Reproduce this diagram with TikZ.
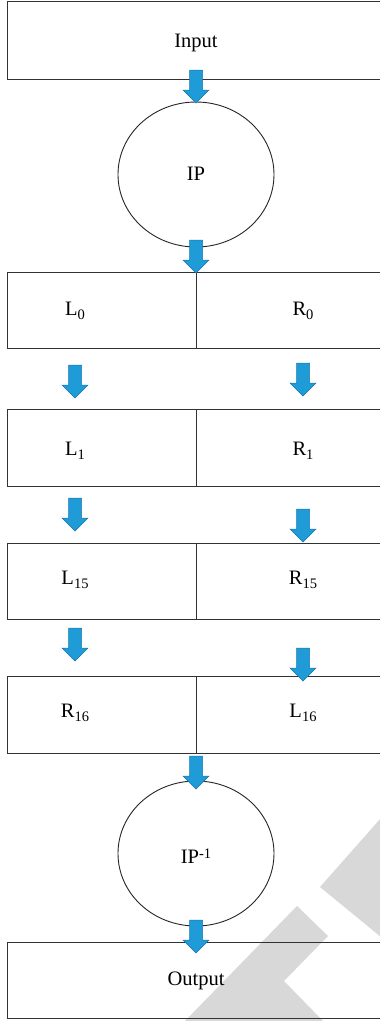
\documentclass[tikz,border=0pt]{standalone}
\usepackage{fontspec}
\setmainfont{Liberation Serif}
\usetikzlibrary{shapes.geometric}
\definecolor{arrowfill}{RGB}{31,156,215}
\definecolor{arrowedge}{RGB}{24,118,176}
\definecolor{boxline}{RGB}{50,50,50}
\definecolor{wmark}{RGB}{216,216,216}
\newcommand\mysub[1]{\raisebox{-4pt}{\fontsize{14.5}{14.5}\selectfont #1}}
\newcommand\mysup[1]{\raisebox{4.5pt}{\fontsize{14.5}{14.5}\selectfont #1}}
\tikzset{
  box/.style={draw=boxline, line width=0.9pt, rectangle, inner sep=0pt},
  circ/.style={draw=black!85, line width=0.9pt, ellipse, inner sep=0pt, minimum width=156pt, minimum height=145pt},
  lbl/.style={inner sep=0pt, anchor=base, font=\fontsize{20.5}{22}\selectfont},
  arrowstyle/.style={fill=arrowfill, draw=arrowedge, line width=0.5pt, line join=miter},
  blockarrow/.pic={\draw[arrowstyle] (-6.5,0) -- (6.5,0) -- (6.5,20) -- (13,20) -- (0,33) -- (-13,20) -- (-6.5,20) -- cycle;}
}
\begin{document}
\begin{tikzpicture}[x=1pt,y=-1pt]
\useasboundingbox (0,0) rectangle (380,1021);
\fill[white] (0,0) rectangle (380,1021);
% watermark
\fill[wmark] (320,887) -- (381,818) -- (381,937) -- cycle;
\fill[wmark] (297,906) -- (328,936) -- (284,981) -- (324,1022) -- (184,1022) -- cycle;
% boxes
\node[box, minimum width=374pt, minimum height=78pt] (input) at (194,40) {};
\node[lbl] (inputt) at (196,47) {Input};
\node[circ] (ip) at (196,174.5) {};
\node[lbl] (ipt) at (196,180) {IP};
\node[box, minimum width=189pt, minimum height=76pt] (b0l) at (101.5,310) {};
\node[box, minimum width=185pt, minimum height=76pt] (b0r) at (288.5,310) {};
\node[lbl] (l0) at (75,315) {L\mysub{0}};
\node[lbl] (r0) at (303,315) {R\mysub{0}};
\node[box, minimum width=189pt, minimum height=77pt] (b1l) at (101.5,447.5) {};
\node[box, minimum width=185pt, minimum height=77pt] (b1r) at (288.5,447.5) {};
\node[lbl] (l1) at (75,455) {L\mysub{1}};
\node[lbl] (r1) at (303,455) {R\mysub{1}};
\node[box, minimum width=189pt, minimum height=76pt] (b15l) at (101.5,581) {};
\node[box, minimum width=185pt, minimum height=76pt] (b15r) at (288.5,581) {};
\node[lbl] (l15) at (75,584) {L\mysub{15}};
\node[lbl] (r15) at (303,584) {R\mysub{15}};
\node[box, minimum width=189pt, minimum height=77pt] (b16l) at (101.5,714.5) {};
\node[box, minimum width=185pt, minimum height=77pt] (b16r) at (288.5,714.5) {};
\node[lbl] (r16) at (75,717) {R\mysub{16}};
\node[lbl] (l16) at (303,717) {L\mysub{16}};
\node[circ] (ipinv) at (196,853.5) {};
\node[lbl] (ipinvt) at (196,863) {IP\mysup{-1}};
\node[box, minimum width=374pt, minimum height=76pt] (output) at (194,980) {};
\node[lbl] (outputt) at (196,985) {Output};
% block arrows
\pic at (196,70) {blockarrow};
\pic at (196,240) {blockarrow};
\pic at (75,365) {blockarrow};
\pic at (303,363) {blockarrow};
\pic at (75,498) {blockarrow};
\pic at (303,509) {blockarrow};
\pic at (75,628) {blockarrow};
\pic at (303,648) {blockarrow};
\pic at (196,756) {blockarrow};
\pic at (196,920) {blockarrow};
\end{tikzpicture}
\end{document}
